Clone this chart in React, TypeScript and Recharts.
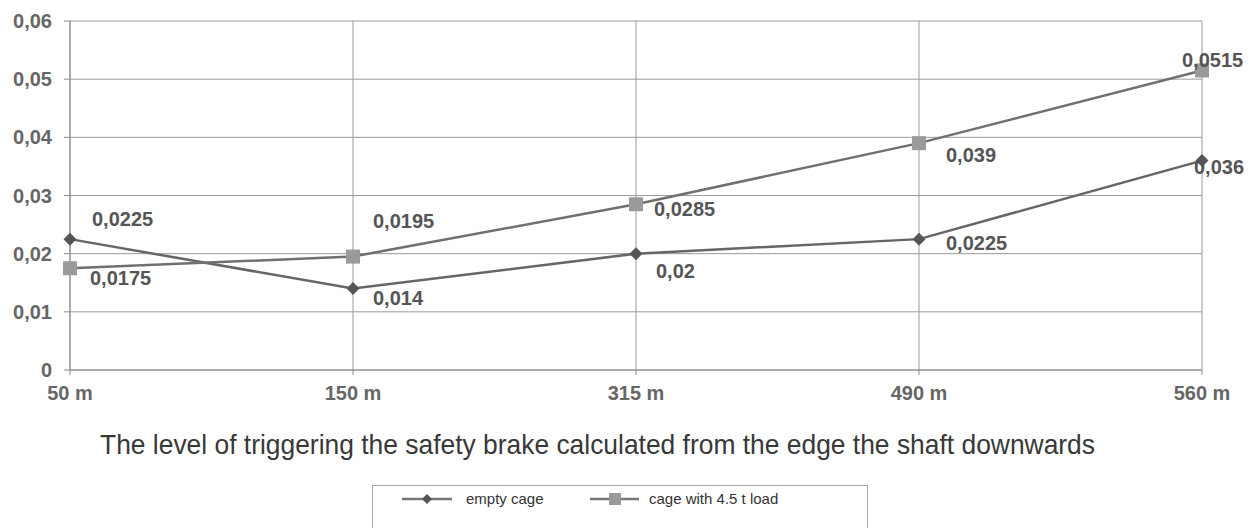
import React from 'react';
import { LineChart, Line, XAxis, YAxis, CartesianGrid } from 'recharts';

const categories = ['50 m', '150 m', '315 m', '490 m', '560 m'];
const emptyCage = [0.0225, 0.014, 0.02, 0.0225, 0.036];
const loadedCage = [0.0175, 0.0195, 0.0285, 0.039, 0.0515];
const yTicks = [0, 0.01, 0.02, 0.03, 0.04, 0.05, 0.06];
const titleText = 'The level of triggering the safety brake calculated from the edge the shaft downwards';

const data = categories.map((c, i) => ({ x: c, empty: emptyCage[i], loaded: loadedCage[i] }));

const emptyLabelOffsets = [[22, -20], [20, 9], [20, 17], [27, 4], [-8, 6]];
const loadedLabelOffsets = [[20, 10], [20, -36], [18, 5], [27, 12], [-20, -10]];

const fmt = (v: number) => String(v).replace('.', ',');
const FONT = "'Liberation Sans', Arial, sans-serif";

const makeLabel = (offsets: number[][]) => (props: any) => {
  const { x, y, value, index } = props;
  const [dx, dy] = offsets[index] || [0, 0];
  return (
    <text
      key={`l-${index}`}
      x={x + dx}
      y={y + dy}
      textAnchor="start"
      dominantBaseline="central"
      fill="#555"
      fontSize={20}
      fontWeight="bold"
      fontFamily={FONT}
    >
      {fmt(value)}
    </text>
  );
};

const Diamond = (props: any) => {
  const { cx, cy, index } = props;
  const s = 6.5;
  return (
    <polygon
      key={`d-${index}`}
      points={`${cx},${cy - s} ${cx + s},${cy} ${cx},${cy + s} ${cx - s},${cy}`}
      fill="#555"
    />
  );
};

const Square = (props: any) => {
  const { cx, cy, index } = props;
  const s = 7;
  return <rect key={`s-${index}`} x={cx - s} y={cy - s} width={2 * s} height={2 * s} fill="#9a9a9a" />;
};

const tickStyle = { fill: '#666', fontSize: 20, fontWeight: 'bold', fontFamily: FONT };

export default function App() {
  return (
    <div style={{ position: 'fixed', left: 0, top: 0, width: 1253, height: 528, background: '#fff', overflow: 'hidden' }}>
      <LineChart width={1253} height={528} data={data} margin={{ top: 21, right: 51, left: 0, bottom: 128 }}>
        <CartesianGrid stroke="#9a9a9a" strokeWidth={1} />
        <XAxis
          dataKey="x"
          stroke="#8a8a8a"
          tickSize={5}
          tick={tickStyle}
          tickMargin={11}
          height={30}
          interval={0}
        />
        <YAxis
          domain={[0, 0.06]}
          ticks={yTicks}
          stroke="#8a8a8a"
          tickSize={6}
          tickMargin={12}
          width={70}
          tick={tickStyle}
          tickFormatter={fmt}
          interval={0}
        />
        <Line
          type="linear"
          dataKey="empty"
          stroke="#666"
          strokeWidth={2.5}
          dot={<Diamond />}
          activeDot={false}
          isAnimationActive={false}
          label={makeLabel(emptyLabelOffsets)}
        />
        <Line
          type="linear"
          dataKey="loaded"
          stroke="#707070"
          strokeWidth={2.5}
          dot={<Square />}
          activeDot={false}
          isAnimationActive={false}
          label={makeLabel(loadedLabelOffsets)}
        />
      </LineChart>
      <svg width={1253} height={60} style={{ position: 'absolute', left: 0, top: 410 }}>
        <text
          x={100}
          y={44}
          fontSize={28}
          fontFamily={FONT}
          fill="#383838"
          textLength={995}
          lengthAdjust="spacingAndGlyphs"
        >
          {titleText}
        </text>
      </svg>
      <div
        style={{
          position: 'absolute',
          left: 372,
          top: 485,
          width: 496,
          height: 60,
          border: '1px solid #aaa',
          boxSizing: 'border-box',
          fontFamily: FONT,
          fontSize: 15,
          color: '#333',
        }}
      >
        <svg width={60} height={20} style={{ position: 'absolute', left: 27, top: 3 }}>
          <line x1={2} y1={10} x2={52} y2={10} stroke="#777" strokeWidth={2.5} />
          <polygon points="27,5 32,10 27,15 22,10" fill="#555" />
        </svg>
        <span style={{ position: 'absolute', left: 93, top: 4 }}>empty cage</span>
        <svg width={60} height={20} style={{ position: 'absolute', left: 215, top: 3 }}>
          <line x1={2} y1={10} x2={51} y2={10} stroke="#777" strokeWidth={2.5} />
          <rect x={21} y={4} width={12} height={12} fill="#9a9a9a" />
        </svg>
        <span style={{ position: 'absolute', left: 276, top: 4 }}>cage with 4.5 t load</span>
      </div>
    </div>
  );
}
